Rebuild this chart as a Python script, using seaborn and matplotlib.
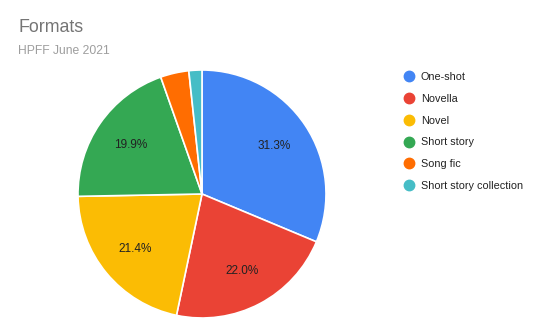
import matplotlib
matplotlib.use("Agg")
import matplotlib.pyplot as plt
from matplotlib.lines import Line2D
import seaborn as sns

sns.set_theme(style="white")
plt.rcParams['font.family'] = ['Liberation Sans', 'DejaVu Sans']

categories = ["One-shot", "Novella", "Novel", "Short story", "Song fic", "Short story collection"]
values = [31.3, 22.0, 21.4, 19.9, 3.7, 1.7]
colors = ["#4285F4", "#EA4335", "#FBBC04", "#34A853", "#FF6D01", "#46BDC6"]
title = "Formats"
subtitle = "HPFF June 2021"

fig = plt.figure(figsize=(5.4, 3.34), dpi=100)
fig.patch.set_facecolor("white")

W, H = 540, 334
cx, cy, r = 202, 194, 124
ax = fig.add_axes([(cx - r) / W, (H - cy - r) / H, 2 * r / W, 2 * r / H])

def fmt(p):
    return f"{p:.1f}%" if p >= 5 else ""

wedges, texts, autotexts = ax.pie(
    values, colors=colors, startangle=90, counterclock=False,
    autopct=fmt, pctdistance=0.70,
    wedgeprops=dict(edgecolor="white", linewidth=1.2),
    textprops=dict(fontsize=8.5, color="#222222"))
ax.set_aspect("equal")
ax.set_xlim(-1, 1)
ax.set_ylim(-1, 1)
ax.axis("off")

fig.text(18 / W, 1 - 27 / H, title, fontsize=12.8, color="#757575", va="center", ha="left")
fig.text(18 / W, 1 - 50.5 / H, subtitle, fontsize=8.7, color="#9E9E9E", va="center", ha="left")

handles = [Line2D([0], [0], marker="o", linestyle="", markersize=7.5,
                  markerfacecolor=c, markeredgecolor=c) for c in colors]
leg = fig.legend(handles, categories, loc="upper left",
                 bbox_to_anchor=(402 / W, 1 - 72 / H), frameon=False,
                 fontsize=7.8, labelcolor="#222222", handletextpad=0.55,
                 labelspacing=1.09, borderaxespad=0, borderpad=0, handlelength=1.2)

fig.savefig("out.png", dpi=100, facecolor="white")
